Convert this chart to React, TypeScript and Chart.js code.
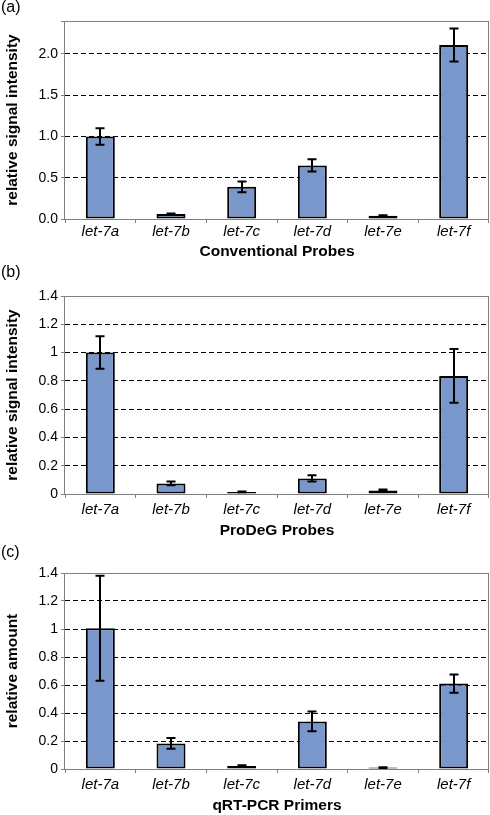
import React, { useEffect, useRef } from "react";
import { Chart, registerables } from "chart.js";

Chart.register(...registerables);

const FONT = "'Liberation Sans', Arial, Helvetica, sans-serif";

const categories = ["let-7a", "let-7b", "let-7c", "let-7d", "let-7e", "let-7f"];

const conventionalValues = [1.0, 0.06, 0.39, 0.65, 0.04, 2.11];
const conventionalErrors = [0.1, 0.006, 0.065, 0.075, 0.006, 0.2];

const prodegValues = [1.0, 0.075, 0.015, 0.11, 0.025, 0.835];
const prodegErrors = [0.115, 0.013, 0.003, 0.022, 0.006, 0.19];

const qpcrValues = [1.005, 0.183, 0.021, 0.34, 0.01, 0.61];
const qpcrErrors = [0.375, 0.038, 0.005, 0.07, 0.002, 0.065];

const panelLetters = ["(a)", "(b)", "(c)"];
const xTitles = ["Conventional Probes", "ProDeG Probes", "qRT-PCR Primers"];
const yTitles = ["relative signal intensity", "relative signal intensity", "relative amount"];
const yMaxes = [2.4, 1.4, 1.4];
const ySteps = [0.5, 0.2, 0.2];
const yTopLabels = [2.0, 1.4, 1.4];

const fmtFixed = (v: number) => v.toFixed(1);
const fmtTrim = (v: number) => String(Number(v.toFixed(1)));

const errorBarPlugin = {
  id: "errorBars",
  afterDatasetsDraw(chart: any, _args: any, opts: any) {
    const errs: number[] = opts.errors || [];
    const meta = chart.getDatasetMeta(0);
    const yScale = chart.scales.y;
    const ctx = chart.ctx;
    const vals = chart.data.datasets[0].data as number[];
    ctx.save();
    ctx.strokeStyle = "#000";
    ctx.lineWidth = 2;
    meta.data.forEach((bar: any, i: number) => {
      const v = vals[i];
      const e = errs[i];
      const yt = yScale.getPixelForValue(v + e);
      const yb = yScale.getPixelForValue(v - e);
      const x = Math.round(bar.x);
      const cap = 4.5;
      ctx.beginPath();
      ctx.moveTo(x, yt);
      ctx.lineTo(x, yb);
      ctx.moveTo(x - cap, yt);
      ctx.lineTo(x + cap, yt);
      ctx.moveTo(x - cap, yb);
      ctx.lineTo(x + cap, yb);
      ctx.stroke();
    });
    ctx.restore();
  },
};

const framePlugin = {
  id: "frame",
  beforeDatasetsDraw(chart: any) {
    const { left, top, right, bottom } = chart.chartArea;
    const ctx = chart.ctx;
    ctx.save();
    ctx.strokeStyle = "#808080";
    ctx.lineWidth = 1;
    ctx.strokeRect(Math.round(left) - 0.5, Math.round(top) + 0.5, Math.round(right - left), Math.round(bottom - top));
    ctx.restore();
  },
};

type PanelProps = {
  values: number[];
  errors: number[];
  xTitle: string;
  yTitle: string;
  max: number;
  step: number;
  topLabel: number;
  fmt: (v: number) => string;
  canvasTop: number;
  padTop: number;
  plotH: number;
  xAxisH: number;
  tickPad: number;
};

function Panel(p: PanelProps) {
  const ref = useRef<HTMLCanvasElement | null>(null);
  const height = p.padTop + p.plotH + p.xAxisH;
  useEffect(() => {
    if (!ref.current) return;
    const chart = new Chart(ref.current, {
      type: "bar",
      data: {
        labels: categories,
        datasets: [
          {
            data: p.values,
            backgroundColor: "#7a97cc",
            borderColor: "#000",
            borderWidth: 2,
            borderSkipped: false,
            barPercentage: 0.41,
            categoryPercentage: 1,
          } as any,
        ],
      },
      options: {
        responsive: false,
        animation: false,
        devicePixelRatio: 1,
        layout: { padding: { top: p.padTop, left: 0, right: 1, bottom: 0 } },
        plugins: {
          legend: { display: false },
          tooltip: { enabled: false },
          errorBars: { errors: p.errors },
        } as any,
        scales: {
          x: {
            grid: {
              display: true,
              drawOnChartArea: false,
              drawTicks: true,
              tickLength: 4,
              tickColor: "#808080",
              offset: true,
            },
            border: { display: false },
            ticks: {
              color: "#000",
              font: { family: FONT, size: 15, style: "italic" },
              padding: p.tickPad,
              maxRotation: 0,
              autoSkip: false,
            },
            title: {
              display: true,
              text: p.xTitle,
              color: "#000",
              font: { family: FONT, size: 15.5, weight: "bold" },
              padding: 0,
            },
            afterFit: (s: any) => {
              s.height = p.xAxisH;
            },
          },
          y: {
            min: 0,
            max: p.max,
            grid: {
              color: (c: any) =>
                c.tick && (Math.abs(c.tick.value) < 1e-9 || c.tick.value > p.topLabel + 1e-9 || Math.abs(c.tick.value - p.max) < 1e-9)
                  ? "rgba(0,0,0,0)"
                  : "#000",
              lineWidth: 1,
              drawTicks: true,
              tickLength: 4,
              tickColor: "#808080",
            },
            border: { display: false, dash: [5, 3] },
            ticks: {
              stepSize: p.step,
              padding: 3,
              color: "#000",
              font: { family: FONT, size: 14 },
              callback: (v: any) => (Number(v) > p.topLabel + 1e-9 ? "" : p.fmt(Number(v))),
            },
            title: {
              display: true,
              text: p.yTitle,
              color: "#000",
              font: { family: FONT, size: 15.5, weight: "bold" },
              padding: { top: 3.5, bottom: 0 },
            },
            afterFit: (s: any) => {
              s.width = 65;
            },
          },
        },
      } as any,
      plugins: [framePlugin, errorBarPlugin],
    });
    return () => chart.destroy();
  }, []);
  return (
    <canvas
      ref={ref}
      width={490}
      height={height}
      style={{ position: "absolute", left: 0, top: p.canvasTop, width: 490, height, display: "block" }}
    />
  );
}

const letterTops = [-1, 264, 544];

export default function App() {
  return (
    <div style={{ position: "absolute", left: 0, top: 0, width: 490, height: 815, overflow: "hidden", background: "#fff" }}>
      <Panel
        values={conventionalValues}
        errors={conventionalErrors}
        xTitle={xTitles[0]}
        yTitle={yTitles[0]}
        max={yMaxes[0]}
        step={ySteps[0]}
        topLabel={yTopLabels[0]}
        fmt={fmtFixed}
        canvasTop={0}
        padTop={21}
        plotH={198}
        xAxisH={42}
        tickPad={0}
      />
      <Panel
        values={prodegValues}
        errors={prodegErrors}
        xTitle={xTitles[1]}
        yTitle={yTitles[1]}
        max={yMaxes[1]}
        step={ySteps[1]}
        topLabel={yTopLabels[1]}
        fmt={fmtTrim}
        canvasTop={270}
        padTop={26}
        plotH={198}
        xAxisH={46}
        tickPad={3}
      />
      <Panel
        values={qpcrValues}
        errors={qpcrErrors}
        xTitle={xTitles[2]}
        yTitle={yTitles[2]}
        max={yMaxes[2]}
        step={ySteps[2]}
        topLabel={yTopLabels[2]}
        fmt={fmtTrim}
        canvasTop={540}
        padTop={33}
        plotH={196}
        xAxisH={46}
        tickPad={3}
      />
      {panelLetters.map((t, i) => (
        <div
          key={t}
          style={{
            position: "absolute",
            left: 1,
            top: letterTops[i],
            fontFamily: FONT,
            fontSize: 16,
            lineHeight: "16px",
            color: "#000",
          }}
        >
          {t}
        </div>
      ))}
    </div>
  );
}
